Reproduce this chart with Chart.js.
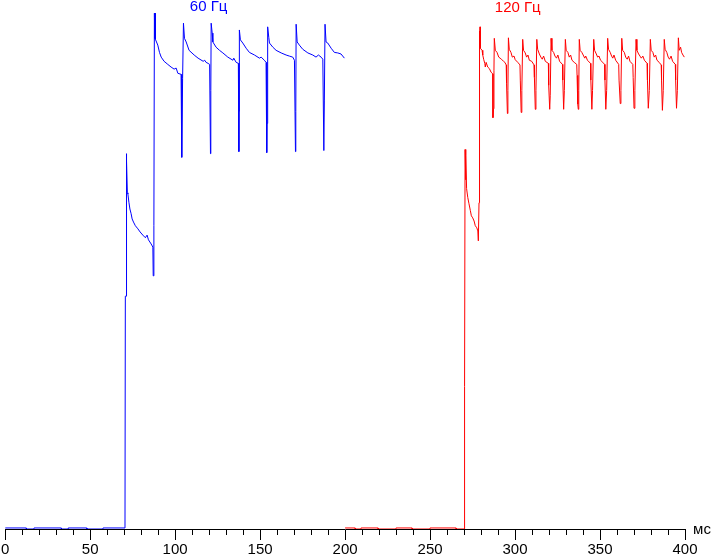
<!DOCTYPE html>
<html>
<head>
<meta charset="utf-8">
<script src="https://cdn.jsdelivr.net/npm/chart.js@4.4.1/dist/chart.umd.min.js"></script>
<style>
  html, body { margin: 0; padding: 0; background: #fff; }
  canvas { display: block; }
</style>
</head>
<body>
<canvas id="myChart" width="711" height="555"></canvas>
<script>
// подписи серий и оси
var seriesNames = ['60 Гц', '120 Гц'];
var unitLabel = 'мс';
var xTickStep = 10;
var xLabelStep = 50;

// 60 Гц: время, мс / яркость, %
var blueTime = [0, 12.4, 12.5, 16.9, 17, 33, 33.1, 37, 37.1, 48, 48.1, 57.5, 57.6, 70.5,
  70.7, 71.1, 71.2, 71.4, 71.6, 71.9, 72.2, 72.8, 73.4, 74.1, 74.7, 75.5, 76.6, 78.1, 79.4, 81.0,
  82.5, 83.5, 84.3, 85.9, 86.9, 87.1, 87.5, 87.8, 88.0, 88.2, 88.4, 89.8, 90.8, 91.8, 93.5,
  95.7, 97.6, 99.4, 100.6, 101.6, 103.5, 103.9, 104.4, 104.9,
  105.5, 106.5, 108.2, 111.2, 113.5, 116.5, 117.4, 118.2, 119.4, 120.3, 120.8, 121.0, 121.2,
  121.8, 122.2, 124.1, 126.1, 128.1, 131.0, 134.0, 134.5, 135.9, 137.2, 137.5, 137.6, 137.8,
  138.4, 139.8, 141.8, 143.7, 146.7, 149.6, 150.6, 152.5, 153.5, 153.9, 154.1, 154.4, 154.5,
  155.1, 155.5, 157.5, 159.4, 162.4, 165.3, 167.2, 169.2, 170.2, 170.8, 171.0, 171.2,
  171.8, 173.1, 175.1, 178.1, 181.0, 182.9, 184.3, 185.9, 186.9, 187.5, 187.8, 188.2,
  188.8, 189.8, 191.8, 193.7, 195.7, 197.6, 199.6];
var blueLevel = [0.2, 0.2, 0, 0, 0.2, 0.2, 0, 0, 0.2, 0.2, 0, 0, 0.2, 0.2,
  44.6, 44.6, 71.9, 68.1, 70.5, 64.4, 64.2, 62.6, 61.3, 60.4, 59.4, 58.8, 58.1, 57.5, 56.9, 56.3,
  55.8, 56.3, 55.4, 54.6, 54.0, 48.5, 58.1, 98.8, 94.0, 98.8, 93.8, 92.7, 91.3, 90.4, 89.6,
  89.0, 88.5, 88.1, 88.3, 87.3, 87.1, 71.2, 86.3, 96.9,
  94.0, 93.3, 91.7, 90.8, 90.2, 89.6, 89.8, 89.4, 89.2, 89.0, 71.9, 84.0, 96.9,
  95.0, 93.3, 92.3, 91.7, 91.2, 90.4, 89.8, 90.2, 89.4, 89.2, 72.3, 80.0, 95.6,
  93.7, 93.1, 92.1, 91.3, 90.8, 90.2, 90.4, 89.8, 89.4, 72.1, 77.7, 82.1, 96.2,
  94.2, 93.1, 92.3, 91.7, 91.2, 90.8, 90.6, 90.4, 89.8, 72.3, 80.0, 96.7,
  93.3, 92.7, 91.9, 91.2, 90.8, 90.4, 90.8, 90.4, 90.0, 72.5, 82.0, 96.7,
  93.3, 93.1, 92.1, 91.3, 91.2, 91.0, 90.2];

// 120 Гц: время, мс / яркость, %
var redTime = [200, 205.9, 206, 209.3, 209.4, 219.4, 219.5, 229.9, 230, 239.4, 239.5, 249.9, 250, 265.3, 265.4, 270.0,
  270.1, 270.5, 270.6, 270.9, 271.1, 271.5, 272.2, 272.9, 273.7, 274.3, 275.1, 275.9, 276.6, 277.5, 278.1, 278.4,
  278.8, 279.0, 279.2, 279.4,
  279.6, 280.6, 281.0, 281.6, 282.2, 282.5, 283.0, 283.9, 284.9, 285.9, 286.9, 287.0, 287.3, 287.6, 287.8,
  288.4, 289.4, 290.4, 291.2, 292.0, 293.2, 294.0, 294.8, 295.0, 295.5, 295.8, 296.1,
  296.6, 297.6, 298.4, 299.4, 300.1, 301.6, 302.9, 303.1, 303.6, 304.0, 304.5,
  305.0, 306.0, 306.8, 307.6, 308.4, 309.8, 311.2, 311.4, 311.9, 312.3, 312.8,
  313.3, 314.3, 315.2, 316.0, 316.8, 317.8, 319.6, 319.8, 320.4, 320.7, 321.2,
  321.7, 322.7, 323.5, 324.4, 325.2, 326.2, 327.9, 328.1, 328.6, 329.0, 329.6,
  330.1, 331.1, 331.9, 332.7, 333.5, 334.8, 336.3, 336.5, 336.9, 337.2, 337.5, 337.8,
  338.3, 339.3, 340.1, 341.0, 341.6, 342.6, 344.4, 344.6, 345.2, 345.6, 346.3,
  346.8, 347.8, 348.6, 349.4, 350.3, 351.6, 352.7, 352.9, 353.4, 353.9, 354.5,
  355.0, 356.0, 356.8, 357.5, 358.2, 359.2, 361.0, 361.2, 361.9, 362.3, 362.8,
  363.3, 364.3, 365.1, 366.0, 366.8, 367.6, 369.3, 369.5, 370.0, 370.5, 371.2,
  371.7, 372.7, 373.5, 374.3, 375.2, 376.1, 377.7, 377.9, 378.4, 379.0, 379.6,
  380.1, 381.1, 381.9, 382.7, 383.5, 384.8, 386.0, 386.2, 386.7, 387.2, 387.8,
  388.3, 389.3, 390.1, 390.9, 391.8, 392.7, 394.3, 394.5, 395.0, 395.5, 396.1,
  396.6, 397.4, 398.0, 398.8, 399.6];
var redLevel = [0.2, 0.2, 0, 0, 0.2, 0.2, 0, 0, 0.2, 0.2, 0, 0, 0.2, 0.2, 0, 0,
  27.3, 27.3, 72.7, 66.9, 71.5, 65.2, 63.5, 62.3, 61.0, 60.0, 59.6, 59.0, 58.1, 57.7, 57.1, 55.2,
  62.5, 95.4, 92.0, 96.2,
  92.1, 91.7, 90.8, 89.9, 89.2, 88.5, 89.4, 88.5, 88.2, 87.5, 87.2, 78.8, 80.5, 87.9, 94.0,
  91.7, 91.3, 90.4, 90.2, 90.0, 89.6, 89.4, 88.9, 85.4, 79.6, 84.0, 94.1,
  91.9, 91.3, 90.4, 90.6, 89.9, 89.4, 88.9, 86.0, 79.8, 84.0, 93.8,
  91.7, 91.2, 90.4, 90.8, 89.8, 89.6, 88.9, 86.5, 80.4, 84.0, 93.8,
  91.9, 91.0, 90.4, 90.0, 90.6, 89.6, 89.2, 85.0, 80.4, 83.0, 94.0,
  91.7, 91.3, 90.6, 90.2, 90.8, 89.6, 89.0, 86.0, 80.4, 84.0, 93.8,
  91.7, 91.3, 90.4, 90.8, 89.8, 89.4, 89.0, 86.9, 81.4, 80.4, 84.0, 93.8,
  91.7, 91.3, 90.8, 90.2, 90.6, 89.8, 89.2, 86.0, 80.4, 84.0, 93.8,
  91.7, 91.0, 90.4, 90.6, 89.8, 89.4, 89.0, 86.0, 80.4, 84.0, 94.0,
  91.9, 91.3, 90.6, 90.2, 90.8, 89.8, 89.0, 86.0, 81.5, 84.0, 94.0,
  91.7, 91.3, 90.4, 90.0, 90.6, 89.6, 89.0, 86.5, 80.6, 84.0, 93.8,
  91.7, 91.0, 90.6, 90.2, 90.6, 89.8, 89.2, 86.0, 80.6, 84.0, 93.8,
  91.7, 91.3, 90.4, 90.8, 89.8, 89.4, 88.9, 86.0, 80.2, 84.0, 93.8,
  91.9, 91.3, 90.4, 90.0, 90.6, 89.6, 89.0, 86.0, 80.6, 84.0, 94.1,
  91.7, 92.3, 91.3, 90.8, 90.4];

function toPoints(ts, vs) {
  var pts = [];
  for (var i = 0; i < ts.length; i++) pts.push({x: ts[i], y: vs[i]});
  return pts;
}

// мелкие риски, подпись "мс" и подписи серий
var extras = {
  id: 'extras',
  afterDraw: function (chart) {
    var ctx = chart.ctx, xs = chart.scales.x, bottom = chart.chartArea.bottom;
    ctx.save();
    ctx.strokeStyle = '#000';
    ctx.lineWidth = 1;
    xs.ticks.forEach(function (t) {
      if (t.value % xLabelStep !== 0) {
        var px = Math.round(xs.getPixelForValue(t.value)) + 0.5;
        ctx.beginPath();
        ctx.moveTo(px, bottom);
        ctx.lineTo(px, bottom + 6);
        ctx.stroke();
      }
    });
    ctx.font = '15px "Liberation Sans", Arial, sans-serif';
    ctx.textAlign = 'center';
    ctx.textBaseline = 'middle';
    ctx.fillStyle = '#000';
    ctx.fillText(unitLabel, 702, bottom + 1);
    ctx.fillStyle = '#0000ff';
    ctx.fillText(seriesNames[0], xs.getPixelForValue(119.7), 7);
    ctx.fillStyle = '#ff0000';
    ctx.fillText(seriesNames[1], xs.getPixelForValue(301.6), 8);
    ctx.restore();
  }
};

var ctx = document.getElementById('myChart').getContext('2d');
new Chart(ctx, {
  type: 'line',
  data: {
    datasets: [{
      label: seriesNames[0],
      data: toPoints(blueTime, blueLevel),
      borderColor: '#0000ff',
      borderWidth: 1,
      pointRadius: 0,
      tension: 0
    }, {
      label: seriesNames[1],
      data: toPoints(redTime, redLevel),
      borderColor: '#ff0000',
      borderWidth: 1,
      pointRadius: 0,
      tension: 0
    }]
  },
  options: {
    responsive: false,
    animation: false,
    events: [],
    layout: { padding: { top: 7, right: 26, left: 0, bottom: -5 } },
    plugins: { legend: { display: false }, tooltip: { enabled: false } },
    scales: {
      x: {
        type: 'linear',
        min: 0,
        max: 400,
        z: 1,
        border: { display: true, color: '#000', width: 1 },
        grid: {
          drawOnChartArea: false,
          drawTicks: true,
          tickLength: 11,
          tickColor: function (c) { return c.tick && c.tick.value % xLabelStep === 0 ? '#000' : 'rgba(0,0,0,0)'; }
        },
        ticks: {
          stepSize: xTickStep,
          autoSkip: false,
          maxRotation: 0,
          padding: 1,
          color: '#000',
          font: { family: '"Liberation Sans", Arial, sans-serif', size: 15 },
          callback: function (v) { return v % xLabelStep === 0 ? v : ''; }
        }
      },
      y: {
        display: false,
        min: 0,
        max: 100
      }
    }
  },
  plugins: [extras]
});
</script>
</body>
</html>
